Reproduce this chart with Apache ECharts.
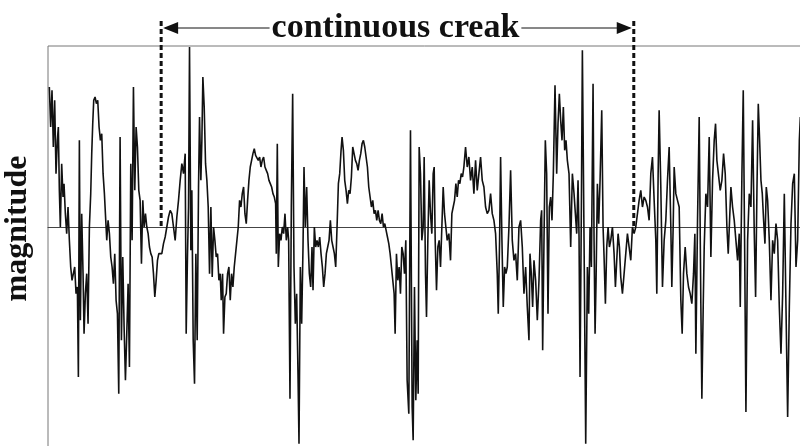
<!DOCTYPE html>
<html>
<head>
<meta charset="utf-8">
<script src="https://cdn.jsdelivr.net/npm/echarts@6.0.0/dist/echarts.min.js"></script>
<style>
  html, body { margin: 0; padding: 0; background: #fff; }
  #chart { width: 800px; height: 446px; }
</style>
</head>
<body>
<div id="chart"></div>
<script>
// Sample times (arbitrary time units) and signal magnitude
const time = [
  4,8,12,16,20,24,28,31,34,37, 41,45,48,52,56,60,64,68,72,76,
  80,84,88,91,94,97,101,105,108,112, 116,120,124,128,131,134,137,141,145,149,
  153,157,161,165,169,173,176,180,184,188, 192,196,200,204,208,212,216,220,224,228,
  232,236,240,244,248,252,256,260,264,268, 272,276,280,284,288,292,296,300,304,308,
  312,316,320,324,328,332,
  341,346,351,356,361,366,371,376,381,386, 391,396,401,406,411,414,418,421,424,428,
  431,435,439,443,447,451,454,458,461,464, 468,472,476,480,484,488,492,496,500,504,
  508,512,516,519,523,526,530,534,538,542, 546,550,554,558,562,566,570,574,578,582,
  586,590,594,598,602,606,610,614,618,622, 626,630,634,638,642,646,650,654,658,662,
  666,670,674,678,682,684,687,690,694,698, 702,706,710,714,718,
  721,725,729,733,737,741,745,749,752,756, 760,764,767,771,775,779,783,787,791,794,
  798,802,806,810,814,818,822,826,830,834, 838,842,846,850,854,858,862,866,870,874,
  878,881,885,889,893,897,901,905,909,913, 917,921,925,929,933,937,941,945,949,953,
  957,961,965,969,973,977,981,985,989,993, 997,1001,1005,1009,1013,1017,1021,1025,1029,1033,
  1037,1040,1044,1048,1052,1056,1060,1064,1068,1072,
  1076,1081,1086,1091,1094,1098,1102,1106,1109,1112, 1116,1120,1124,1127,1131,1134,1138,1142,1146,1150,
  1154,1157,1160,1164,1168,1172,1176,1180,1184,1188, 1192,1196,1201,1206,1210,1214,1218,1222,1226,1230,
  1234,1238,1242,1246,1251,1256,1261,1266,1271,1276, 1281,1286,1291,1296,1301,1306,1311,1316,1321,1326,
  1331,1336,1341,1346,1349,1353,1356,1360,1364,1368, 1372,1376,1381,1386,1391,1396,1401,1406,1411,1416,
  1421,1426,1431,1436,1441,
  1444,1448,1452,1456,1461,1466,1471,1476,1479,1482, 1486,1490,1494,1498,1502,1506,1510,1514,1519,1524,
  1528,1532,1536,1540,1544,1548,1552,1556,1561,1566, 1571,1576,1580,1584,1588,1591,1594,1598,1601,1606,
  1611,1616,1620,1624,1628,1633,1636,1639,1642,1646, 1650,1654,1659,1663,1666,1670,1674,1678,1682,1686,
  1691,1696,1700,1704,1708,1712,1716,1721,1726,1731, 1736,1741,1746,1751,1756,1761,1766,1771,1776,1781,
  1786,1791,
  1796,1801,1806,1811,1816,1821,1824,1828,1831,1836, 1841,1846,1851,1856,1861,1866,1869,1873,1876,1881,
  1886,1891,1896,1900,1904,1909,1914,1919,1924,1929, 1934,1938,1941,1946,1951,1956,1959,1963,1966,1971,
  1976,1981,1986,1991,1996,2000,2004,2009,2014,2019, 2024,2029,2034,2038,2042,2046,2051,2056,2061,2066,
  2071,2074,2079,2083,2087,2091,2096,2101,2106,2111, 2116,2120,2124,2128,2132,2136,2140,2144,2148,2152,
  2156,2161,2166,2171,2176,2181,2186,2191,2196,2201, 2206,2211,2216,2221,2226,2231,2236,2241,2246,2251,
  2254
];

const magnitude = [
  420,300,410,240,380,160,260,300,110,0, 190,90,130,40,-20,60,-40,-120,-160,-140,
  -120,-200,-180,-450,260,-280,40,-140,-320,-200, -140,-290,0,100,220,310,380,390,370,380,
  300,260,280,160,100,20,-40,20,-20,-90, -120,-170,-80,-220,-260,-500,270,-340,-90,-300,
  -460,-320,-170,-420,190,-40,420,110,300,240, 110,80,-110,80,0,40,0,-20,-60,-80,
  -90,-140,-210,-160,-100,-80,
  -80,-50,-30,0,30,50,40,0,-40,30, 80,140,190,160,220,-320,-80,60,540,-70,
  110,-340,-470,-80,-340,120,330,140,260,450, 360,190,140,60,-140,60,-150,0,-40,-90,
  -80,-160,-140,-220,-140,-320,-210,-200,-140,-120, -220,-140,-180,-120,-80,-80,0,80,60,100,
  120,40,10,80,140,180,200,220,235,215, 210,200,210,180,200,210,180,170,160,140,
  130,120,100,90,70,-80,250,-120,-20,-40, 0,-20,40,-40,0,
  -40,-515,60,400,-120,-290,-200,-440,-650,-120, -290,-60,180,0,120,-40,-140,-180,-60,-190,
  0,-60,-40,-60,-30,-80,-120,-180,-140,-80, -60,-40,20,-40,-60,-80,-120,0,130,160,
  230,270,230,140,110,70,110,100,150,240, 220,200,190,170,200,220,250,260,240,210,
  180,120,90,60,80,40,50,20,50,20, 10,40,0,10,-10,-30,-50,-80,-120,-160,
  -200,-320,-80,-160,-120,-200,-60,-80,-140,-40,
  -460,-560,290,-540,-640,-180,-520,-340,-500,240, 160,-40,0,210,-140,-270,-40,140,40,-20,
  160,180,-40,-190,-60,-40,-120,0,120,40, 0,-40,-20,-100,40,60,80,130,90,140,
  130,160,150,180,240,180,210,140,180,100, 200,110,160,210,140,120,60,40,50,100,
  40,20,-20,-140,-260,-40,210,-40,-240,-120, -140,-120,0,170,-40,-100,-80,-160,0,20,
  -60,-200,-120,-240,-340,
  -80,-140,-240,-100,-160,-280,-160,20,50,-370, -40,260,160,-260,60,90,20,160,425,160,
  310,400,320,260,360,230,260,200,160,-60, 160,100,40,-20,140,-30,-450,60,530,-40,
  -650,-120,-260,0,-120,430,-40,-320,-160,130, 10,140,350,0,-90,-230,-60,0,-60,-40,
  0,-80,-180,-100,-20,-60,-150,-200,-140,-80, -20,-60,-100,0,-20,0,0,80,110,60,
  90,80,
  60,20,160,210,80,-40,-200,160,350,120, -180,-40,20,140,240,0,-180,0,180,100,
  80,60,-220,-320,-140,-60,-140,-180,-200,-230, -140,-20,-380,20,330,-240,-515,-240,-60,100,
  60,270,-90,140,260,310,200,200,110,140, 220,160,0,-80,20,120,60,20,-40,-100,
  -20,-240,160,410,-40,-555,-40,100,60,320, -20,-210,110,370,260,140,100,20,-50,120,
  80,-40,-220,-40,-80,10,-40,-240,-380,-200, 100,-240,-570,-240,10,130,160,-120,-40,260,
  330
];

// Start and end of the creak interval (same time units)
const creakInterval = [339, 1755];
const creakLabel = 'continuous creak';

const timeRange = [0, 2256];
const magnitudeRange = [-690, 543];

const serif = '"Liberation Serif", "DejaVu Serif", "Times New Roman", serif';

const chart = echarts.init(document.getElementById('chart'), null, { renderer: 'canvas' });

chart.setOption({
  animation: false,
  backgroundColor: '#fff',
  grid: {
    left: 48, right: -1, top: 46, bottom: -11,
    containLabel: false,
    outerBoundsMode: 'none',
    show: true, borderColor: '#777', borderWidth: 1
  },
  xAxis: {
    type: 'value',
    min: timeRange[0], max: timeRange[1],
    axisLine: { show: true, onZero: true, lineStyle: { color: '#444', width: 1 } },
    axisTick: { show: false },
    axisLabel: { show: false },
    splitLine: { show: false }
  },
  yAxis: {
    type: 'value',
    min: magnitudeRange[0], max: magnitudeRange[1],
    axisLine: { show: false },
    axisTick: { show: false },
    axisLabel: { show: false },
    splitLine: { show: false },
    name: 'magnitude',
    nameLocation: 'middle',
    nameGap: 14,
    nameRotate: 90,
    nameTextStyle: {
      fontFamily: serif, fontWeight: 'bold', fontSize: 32, color: '#111',
      padding: [0, 0, 0, 46]
    }
  },
  series: [{
    type: 'line',
    data: time.map((t, i) => [t, magnitude[i]]),
    symbol: 'none',
    showSymbol: false,
    clip: true,
    lineStyle: { color: '#111', width: 1.6 }
  }]
});

// Bracket marking the creak interval, placed through the axis scales
const [xL, yZero] = chart.convertToPixel({ gridIndex: 0 }, [creakInterval[0], 0]);
const [xR] = chart.convertToPixel({ gridIndex: 0 }, [creakInterval[1], 0]);
const yArrow = 28;
const dash = { stroke: '#111', lineWidth: 3, lineDash: [5, 3] };

chart.setOption({
  graphic: [
    { type: 'line', shape: { x1: xL, y1: 21, x2: xL, y2: yZero }, style: dash, z: 10 },
    { type: 'line', shape: { x1: xR, y1: 21, x2: xR, y2: yZero }, style: dash, z: 10 },
    { type: 'line', shape: { x1: xL + 4, y1: yArrow, x2: xR - 4, y2: yArrow }, style: { stroke: '#111', lineWidth: 1 }, z: 10 },
    { type: 'polygon', shape: { points: [[xL + 2, yArrow], [xL + 17, yArrow - 6], [xL + 17, yArrow + 6]] }, style: { fill: '#111' }, z: 11 },
    { type: 'polygon', shape: { points: [[xR - 2, yArrow], [xR - 17, yArrow - 6], [xR - 17, yArrow + 6]] }, style: { fill: '#111' }, z: 11 },
    {
      type: 'text', x: (xL + xR) / 2 - 2, y: yArrow, z: 12,
      style: {
        text: creakLabel, align: 'center', verticalAlign: 'middle',
        font: 'bold 34px ' + serif, fill: '#111',
        backgroundColor: '#fff', padding: [0, 2]
      }
    }
  ]
});
</script>
</body>
</html>
